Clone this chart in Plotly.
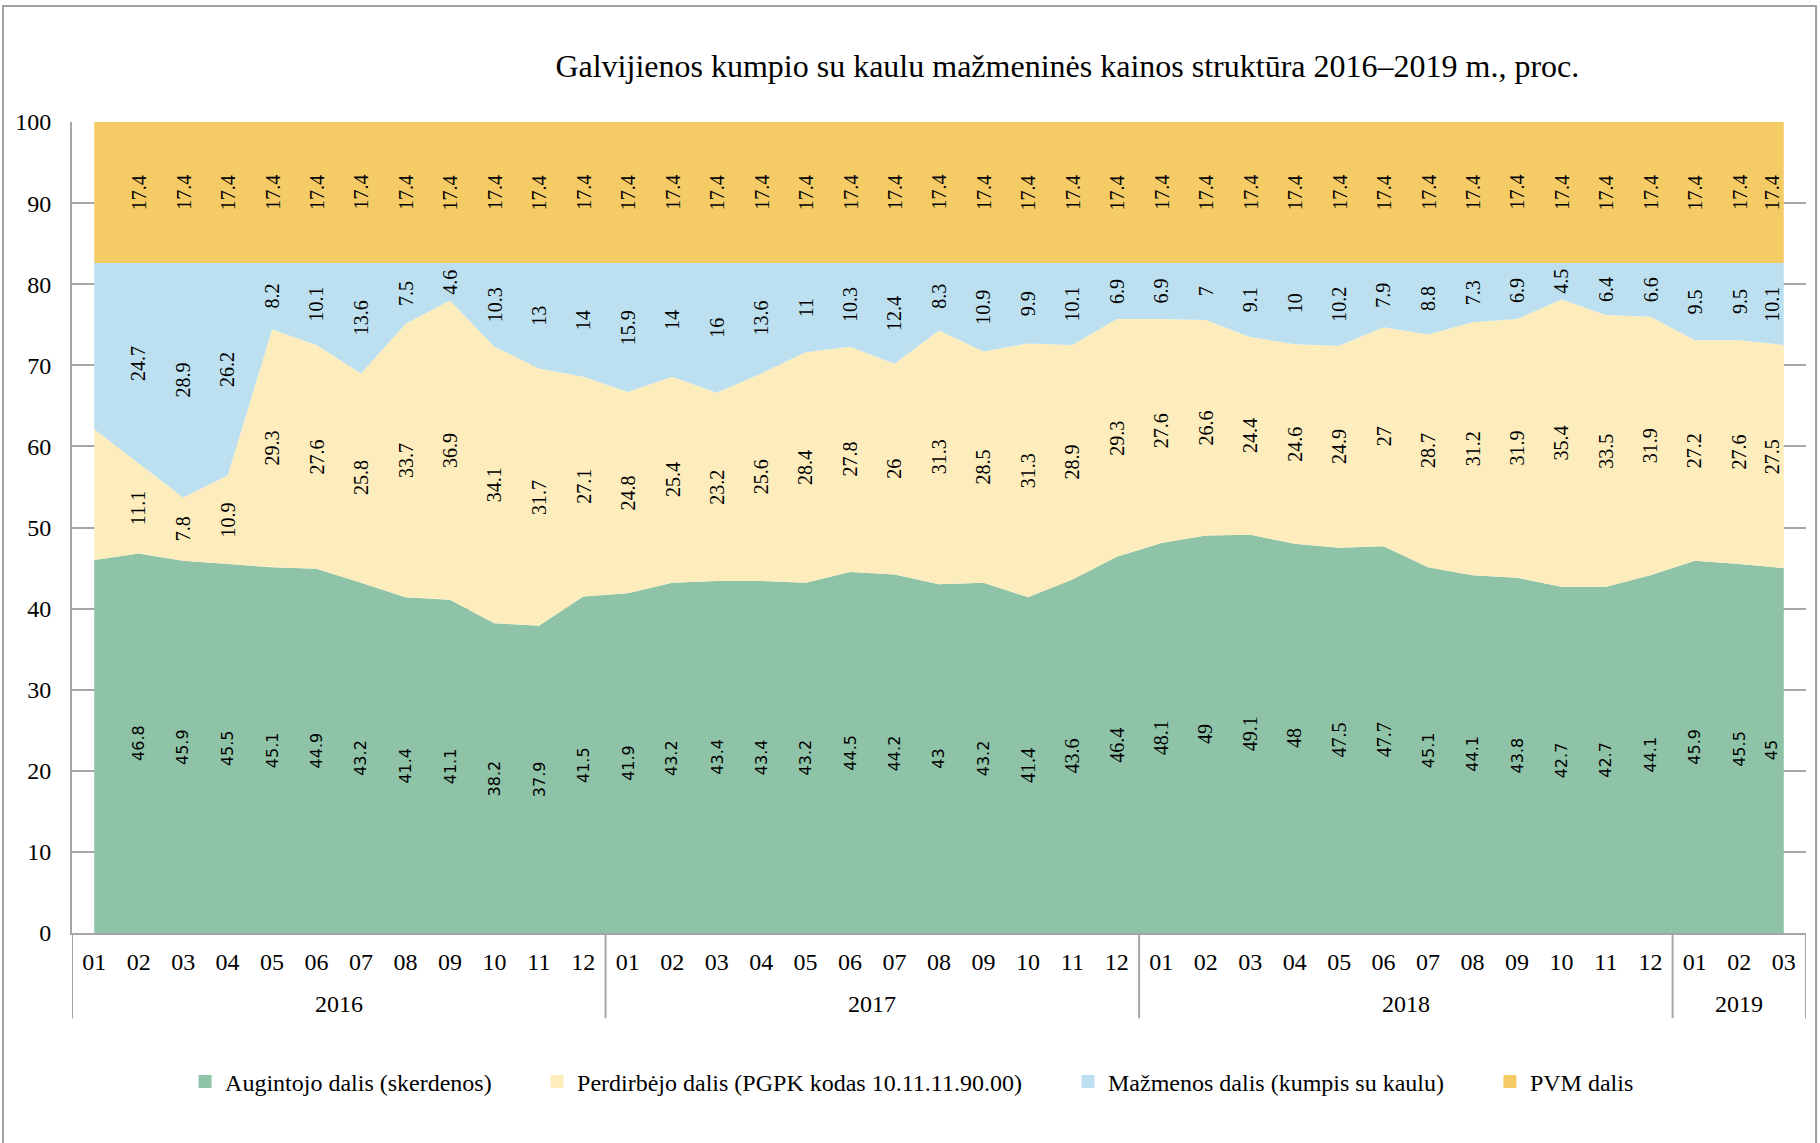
import plotly.graph_objects as go

# ---------------- data ----------------
years = ["2016"] * 12 + ["2017"] * 12 + ["2018"] * 12 + ["2019"] * 3
months = ["01", "02", "03", "04", "05", "06", "07", "08", "09", "10", "11", "12"] * 3 + ["01", "02", "03"]

augintojo = [46.0, 46.8, 45.9, 45.5, 45.1, 44.9, 43.2, 41.4, 41.1, 38.2, 37.9, 41.5,
             41.9, 43.2, 43.4, 43.4, 43.2, 44.5, 44.2, 43.0, 43.2, 41.4, 43.6, 46.4,
             48.1, 49.0, 49.1, 48.0, 47.5, 47.7, 45.1, 44.1, 43.8, 42.7, 42.7, 44.1,
             45.9, 45.5, 45.0]
perdirbejo = [16.1, 11.1, 7.8, 10.9, 29.3, 27.6, 25.8, 33.7, 36.9, 34.1, 31.7, 27.1,
              24.8, 25.4, 23.2, 25.6, 28.4, 27.8, 26.0, 31.3, 28.5, 31.3, 28.9, 29.3,
              27.6, 26.6, 24.4, 24.6, 24.9, 27.0, 28.7, 31.2, 31.9, 35.4, 33.5, 31.9,
              27.2, 27.6, 27.5]
mazmenos = [20.5, 24.7, 28.9, 26.2, 8.2, 10.1, 13.6, 7.5, 4.6, 10.3, 13.0, 14.0,
            15.9, 14.0, 16.0, 13.6, 11.0, 10.3, 12.4, 8.3, 10.9, 9.9, 10.1, 6.9,
            6.9, 7.0, 9.1, 10.0, 10.2, 7.9, 8.8, 7.3, 6.9, 4.5, 6.4, 6.6,
            9.5, 9.5, 10.1]
pvm = [17.4] * 39

series_names = ["Augintojo dalis (skerdenos)",
                "Perdirbėjo dalis (PGPK kodas 10.11.11.90.00)",
                "Mažmenos dalis (kumpis su kaulu)",
                "PVM dalis"]
series_values = [augintojo, perdirbejo, mazmenos, pvm]
title_text = "Galvijienos kumpio su kaulu mažmeninės kainos struktūra 2016–2019 m., proc."

# ---------------- style ----------------
colors = ["#8EC3A7", "#FDEDBD", "#BDE0F0", "#F5CB66"]
SERIF = "Liberation Serif, Times New Roman, serif"
SANS = "DejaVu Sans, Verdana, sans-serif"
GRID = "#A6A6A6"

x = list(range(len(months)))
n = len(x)

fig = go.Figure()
for name, vals, col in zip(series_names, series_values, colors):
    fig.add_trace(go.Scatter(
        x=x, y=vals, mode="lines", stackgroup="one", name=name,
        line=dict(width=0, color=col), fillcolor=col, showlegend=False,
        hoverinfo="skip"))

# legend entries (square markers), each in its own legend for placement
legend_ids = ["legend", "legend2", "legend3", "legend4"]
for name, col, lid in zip(series_names, colors, legend_ids):
    fig.add_trace(go.Scatter(
        x=[None], y=[None], mode="markers", name=name, legend=lid,
        marker=dict(symbol="square", size=13, color=col), showlegend=True))

# data labels (rotated, centred in each band); first month has no labels
annotations = []
base = [0.0] * n
for si, vals in enumerate(series_values):
    for i in range(n):
        mid = base[i] + vals[i] / 2.0
        if i > 0:
            if si == 0 and not (21 <= i <= 29):
                font = dict(family=SANS, size=16, color="black")
            else:
                font = dict(family=SERIF, size=20, color="black")
            annotations.append(dict(
                x=x[i], y=mid, xref="x", yref="y", text=f"{vals[i]:g}",
                textangle=-90, showarrow=False, font=font,
                xshift=-12 if i == n - 1 else 0))
    base = [b + v for b, v in zip(base, vals)]

# year group labels and separators
groups = []
for i, yv in enumerate(years):
    if not groups or groups[-1][0] != yv:
        groups.append([yv, i, i])
    else:
        groups[-1][2] = i

shapes = []
for yv, i0, i1 in groups:
    annotations.append(dict(
        x=(x[i0] + x[i1]) / 2.0, y=-0.0875, xref="x", yref="paper",
        text=yv, showarrow=False, yanchor="middle",
        font=dict(family=SERIF, size=24, color="black")))
    shapes.append(dict(type="line", xref="x", yref="paper",
                       x0=x[i0] - 0.5, x1=x[i0] - 0.5, y0=0, y1=-0.105,
                       line=dict(color=GRID, width=2)))
shapes.append(dict(type="line", xref="x", yref="paper",
                   x0=x[-1] + 0.5, x1=x[-1] + 0.5, y0=0, y1=-0.105,
                   line=dict(color=GRID, width=2)))
# outer chart border (bottom edge falls just outside the canvas)
shapes.append(dict(type="rect", xref="paper", yref="paper",
                   x0=-0.0398, x1=1.0058, y0=-0.2630, y1=1.1430,
                   line=dict(color="#A0A0A0", width=2), fillcolor="rgba(0,0,0,0)",
                   layer="below"))

legend_x = [0.0652, 0.2682, 0.5744, 0.8177]
legend_cfg = {}
for lid, lx in zip(legend_ids, legend_x):
    legend_cfg[lid] = dict(x=lx, y=-0.1837, xanchor="left", yanchor="middle",
                           orientation="h", bgcolor="rgba(0,0,0,0)",
                           font=dict(family=SERIF, size=24, color="black"),
                           itemwidth=30, tracegroupgap=0)

fig.update_layout(
    width=1820, height=1143,
    margin=dict(l=72, r=14, t=122, b=210),
    paper_bgcolor="white", plot_bgcolor="white",
    title=dict(text=title_text, x=0.574, xref="paper", xanchor="center",
               y=0.942, yref="container", yanchor="middle",
               font=dict(family=SERIF, size=32, color="black")),
    xaxis=dict(range=[-0.5, n - 0.5], tickmode="array", tickvals=x, ticktext=months,
               showgrid=False, zeroline=False, showline=True, linecolor=GRID, linewidth=2,
               ticks="", ticklabelstandoff=6,
               tickfont=dict(family=SERIF, size=24, color="black"), fixedrange=True),
    yaxis=dict(range=[0, 100], dtick=10, showgrid=True, gridcolor=GRID, gridwidth=2,
               zeroline=False, showline=True, linecolor=GRID, linewidth=2,
               ticks="", ticklabelstandoff=14,
               tickfont=dict(family=SERIF, size=24, color="black"), fixedrange=True),
    annotations=annotations,
    shapes=shapes,
    **legend_cfg,
)

fig.write_html("out.html", config={"displayModeBar": False},
               post_script="document.body.style.margin='0px';")
